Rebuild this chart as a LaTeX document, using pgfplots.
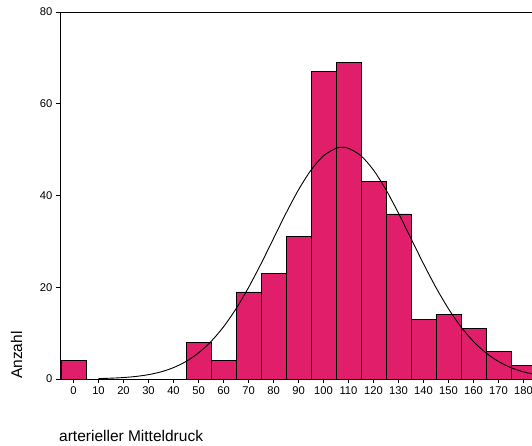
\documentclass[border=0pt]{standalone}
\usepackage{pgfplots}
\pgfplotsset{compat=1.18}
\usepackage{fontspec}
\setmainfont{Liberation Sans}
\definecolor{barpink}{RGB}{225,30,105}
\begin{document}
\begin{tikzpicture}
\begin{axis}[
  at={(0,0)}, anchor=south west,
  scale only axis,
  width=472pt, height=367pt,
  xmin=-5.4, xmax=183.4,
  ymin=0, ymax=80,
  axis x line*=box, axis y line*=left,
  xtick pos=bottom, ytick pos=left,
  xtick={0,10,...,180},
  ytick={0,20,40,60,80},
  tick align=outside,
  major tick length=3.5pt,
  tick style={black, line width=0.6pt},
  axis line style={black, line width=0.8pt},
  ticklabel style={font=\fontsize{11.2}{13}\selectfont},
  /pgf/number format/assume math mode=true,
  xticklabel style={inner sep=1pt, yshift=-3pt},
  yticklabel style={inner sep=1pt, xshift=-3pt},
  xlabel={arterieller Mitteldruck},
  xlabel style={at={(rel axis cs:0,0)}, anchor=west, yshift=-57pt, xshift=-1pt, inner sep=0pt, font=\fontsize{15.5}{17}\selectfont},
  ylabel={Anzahl},
  ylabel style={at={(rel axis cs:0,0)}, anchor=west, yshift=43.5pt, inner sep=0pt, font=\fontsize{15.5}{17}\selectfont},
  clip=true,
]
\addplot[ybar, bar width=10, bar shift=0pt, fill=barpink, draw=black, line width=0.6pt]
coordinates {
(0,4) (50,8) (60,4) (70,19) (80,23) (90,31) (100,67) (110,69)
(120,43) (130,36) (140,13) (150,14) (160,11) (170,6) (180,3)
};
\addplot[black, line width=0.9pt, smooth, mark=none]
coordinates {
(10,0.09) (15,0.18) (20,0.32) (25,0.56) (30,0.95) (35,1.56) (40,2.48)
(45,3.82) (50,5.68) (55,8.17) (60,11.37) (65,15.30) (70,19.93) (75,25.12)
(80,30.63) (85,36.14) (90,41.24) (95,45.54) (100,48.66) (105,50.29)
(107.5,50.5) (110,50.29) (115,48.66) (120,45.54) (125,41.24) (130,36.14)
(135,30.63) (140,25.12) (145,19.93) (150,15.30) (155,11.37) (160,8.17)
(165,5.68) (170,3.82) (175,2.48) (180,1.56) (185,0.95)
};
\end{axis}
\pgfresetboundingbox
\path[use as bounding box] (-60pt,-66pt) rectangle (472pt,379pt);
\end{tikzpicture}
\end{document}
